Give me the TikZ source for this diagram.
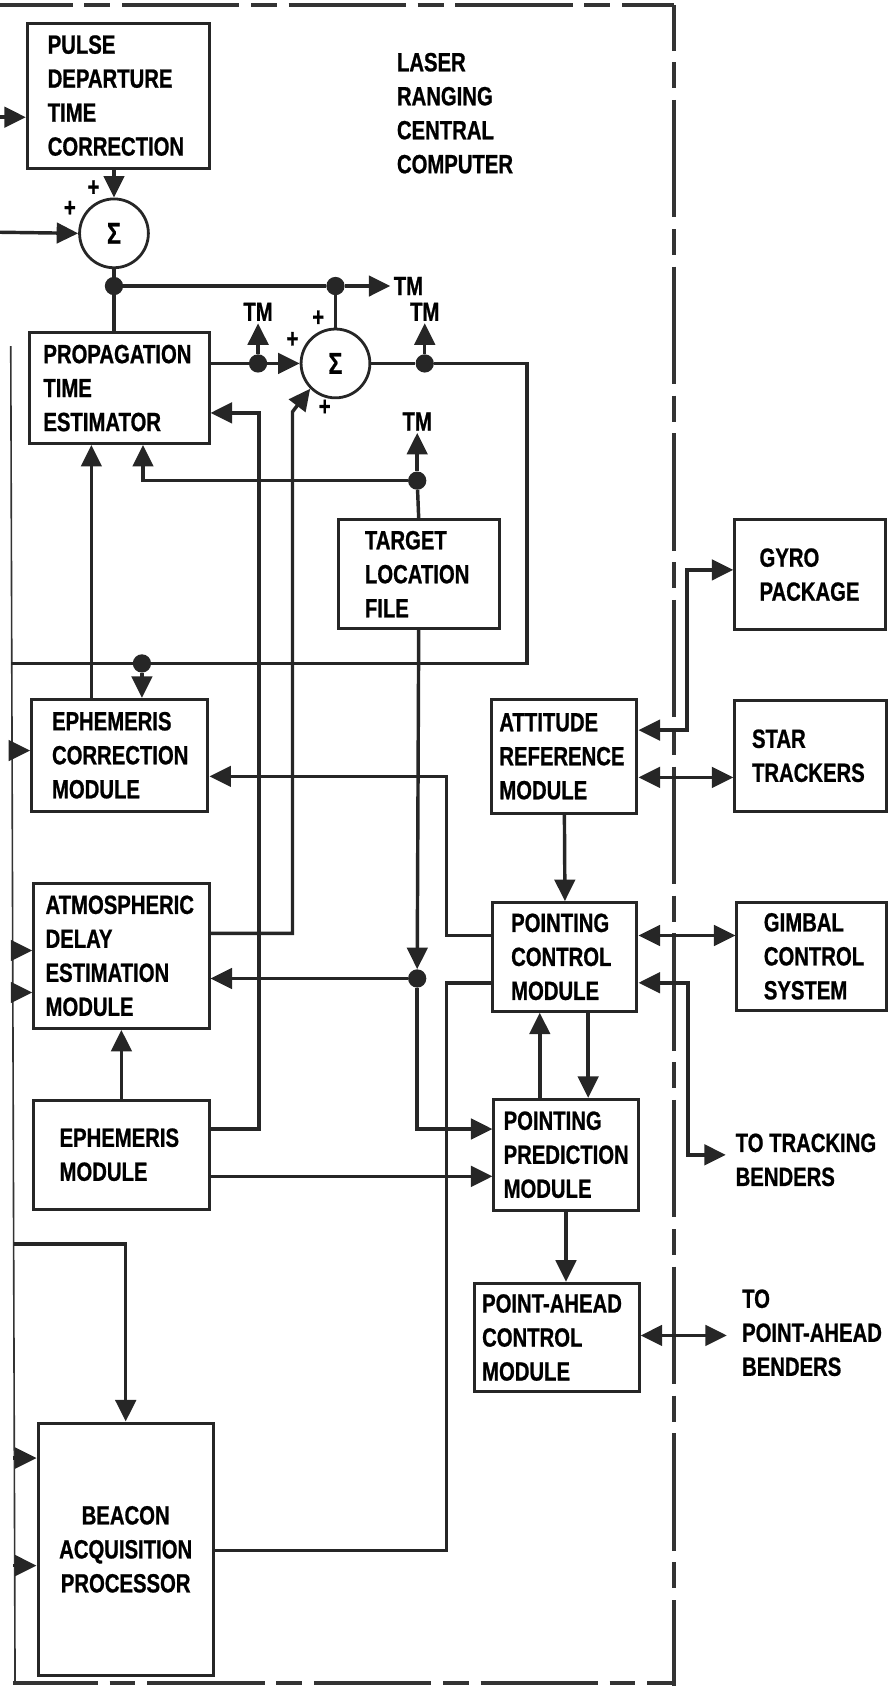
\documentclass[tikz,border=0pt]{standalone}
\usepackage{fontspec}
\setmainfont{Liberation Sans}[FakeStretch=0.77,FakeBold=0.8]
\usetikzlibrary{arrows.meta}
\tikzset{blk/.style={draw=black!85,line width=2.8pt,anchor=north west,align=left,inner ysep=0pt},
 sum/.style={draw=black!85,circle,line width=2.6pt,minimum size=64pt,inner sep=0pt,font=\bfseries\fontsize{28pt}{30pt}\selectfont},
 dot/.style={circle,fill=black!85,inner sep=0pt,minimum size=17pt},
 flow/.style={-{Triangle[length=20pt 0 0,width=19pt 0 0]},line width=3.2pt,draw=black!85},
 bi/.style={{Triangle[length=20pt 0 0,width=19pt 0 0]}-{Triangle[length=20pt 0 0,width=19pt 0 0]},line width=3.2pt,draw=black!85},
 wire/.style={line width=3.2pt,draw=black!85},
 txt/.style={align=left,inner sep=0pt,anchor=north west},
 frame/.style={line width=3.5pt,draw=black!80,dash pattern=on 109pt off 11pt on 24pt off 11pt}}
\begin{document}
\begin{tikzpicture}[x=1pt,y=-1pt,font=\bfseries\fontsize{24.5pt}{31.6pt}\selectfont]
\useasboundingbox (0,0) rectangle (829,1568);
% computer boundary
\draw[frame,dash phase=41.5pt] (0,5) -- (627,5);
\draw[frame,dash phase=67pt] (627,5) -- (627,1568);
\draw[frame,dash phase=30pt] (12,1565) -- (627,1565);
\draw[line width=1.5pt,black!80] (10,322) -- (14,1565);
\node[txt] (title) at (369,49) {LASER\\RANGING\\CENTRAL\\COMPUTER};

% left column
\node[blk,minimum width=169pt,minimum height=135pt,text width=131pt,inner xsep=19pt] (pdtc) at (24,20) {PULSE\\DEPARTURE\\TIME\\CORRECTION};
\node[blk,minimum width=167pt,minimum height=103pt,text width=141pt,inner xsep=13pt] (pte) at (26,308) {PROPAGATION\\TIME\\ESTIMATOR};
\node[blk,minimum width=164pt,minimum height=104pt,text width=126pt,inner xsep=19pt] (ecm) at (28,649) {EPHEMERIS\\CORRECTION\\MODULE};
\node[blk,minimum width=163pt,minimum height=135pt,text width=141pt,inner xsep=11pt] (adem) at (30,820) {ATMOSPHERIC\\DELAY\\ESTIMATION\\MODULE};
\node[blk,minimum width=163pt,minimum height=101pt,text width=115pt,inner xsep=24pt] (eph) at (30,1022) {EPHEMERIS\\MODULE};
\node[blk,align=center,minimum width=163pt,minimum height=235pt,text width=143pt,inner xsep=10pt] (bap) at (34,1322) {BEACON\\ACQUISITION\\PROCESSOR};
\node[blk,minimum width=150pt,minimum height=101pt,text width=100pt,inner xsep=25pt] (tlf) at (313,482) {TARGET\\LOCATION\\FILE};

% right column
\node[blk,minimum width=135pt,minimum height=106pt,text width=121pt,inner xsep=7pt] (arm) at (456,649) {ATTITUDE\\REFERENCE\\MODULE};
\node[blk,minimum width=134pt,minimum height=101pt,text width=100pt,inner xsep=17pt] (pcm) at (457,838) {POINTING\\CONTROL\\MODULE};
\node[blk,minimum width=134pt,minimum height=103pt,text width=116pt,inner xsep=9pt] (ppm) at (458,1021) {POINTING\\PREDICTION\\MODULE};
\node[blk,minimum width=153pt,minimum height=101pt,text width=139pt,inner xsep=7pt] (pacm) at (440,1192) {POINT-AHEAD\\CONTROL\\MODULE};
\node[blk,minimum width=140pt,minimum height=102pt,text width=94pt,inner xsep=23pt] (gyro) at (682,482) {GYRO\\PACKAGE};
\node[blk,minimum width=141pt,minimum height=103pt,text width=109pt,inner xsep=16pt] (star) at (682,650) {STAR\\TRACKERS};
\node[blk,minimum width=139pt,minimum height=100pt,text width=89pt,inner xsep=25pt] (gimbal) at (684,838) {GIMBAL\\CONTROL\\SYSTEM};
\node[txt] (lTrk) at (684,1054) {TO TRACKING\\BENDERS};
\node[txt] (lPA) at (690,1199) {TO\\POINT-AHEAD\\BENDERS};

% summing points and junctions
\node[sum] (s1) at (106,217) {Σ};
\node[sum] (s2) at (312,338) {Σ};
\node[dot] (d1) at (106,266) {};
\node[dot] (d2) at (312,266) {};
\node[dot] (d3) at (240,338) {};
\node[dot] (d4) at (395,338) {};
\node[dot] (d5) at (132,617) {};
\node[dot] (d6) at (388,447) {};
\node[dot] (d7) at (388,910) {};
\foreach \n/\x/\y in {p1/87/175,p2/65/194,p3/296/296,p4/272/316,p5/302/379}
 \node (\n) at (\x,\y) {+};
\node[anchor=west,inner sep=3pt] (tmA) at (363,266) {TM};
\node[inner sep=2pt] (tmB) at (240,290) {TM};
\node[inner sep=2pt] (tmC) at (395,290) {TM};
\node[inner sep=2pt] (tmD) at (388,392) {TM};

% inputs from the left
\coordinate (inP) at (0,109);
\coordinate (inS) at (0,216);
\coordinate (eL) at (10,617);
\coordinate (inB) at (13,1157);
\draw[flow] (inP) -- (inP -| pdtc.west);
\draw[flow] (inS) -- (s1.west);
\foreach \y/\b in {698/ecm,884/adem,923/adem,1356/bap,1456/bap}{
 \coordinate (in\y) at (12,\y);
 \draw[flow] (in\y) -- (in\y -| \b.west);}
\draw[flow] (inB) -| (bap.north);

% range loop
\draw[flow] (pdtc.south -| s1) -- (s1.north);
\draw[wire] (s1.south) -- (d1) -- (pte.north -| d1);
\draw[flow] (d1) -- (d2) -- (tmA.west);
\draw[wire] (d2) -- (s2.north);
\draw[flow] (pte.east |- s2) -- (s2.west);
\draw[flow] (d3) -- (tmB.south);
\draw[wire] (s2.east) -- (d4) -- (490,338) -- (490,617) -- (eL);
\draw[flow] (d4) -- (tmC.south);
\draw[flow] (d5) -- (d5 |- ecm.north);
\draw[flow] (ecm.north -| 85,0) -- (pte.south -| 85,0);
\draw[wire] (tlf.north) -- (d6);
\draw[flow] (d6) -- (tmD.south);
\draw[flow] (d6) -| (pte.south -| 133,0);
\draw[flow] (tlf.south) -- (d7.north);
\draw[flow] (d7) -- (d7 -| adem.east);
\draw[flow] (d7) |- (ppm.west |- 0,1050);
\draw[flow] (adem.east |- 0,868) -| (272,383) -- (s2.225);
\draw[flow] (eph.east |- 0,1050) -| (241,384) -- (pte.east |- 0,384);
\draw[flow] (eph.north) -- (adem.south);
\draw[flow] (eph.east |- 0,1094) -- (ppm.west |- 0,1094);

% pointing loop
\draw[flow] (pcm.west |- 0,870) -| (415,722) -- (ecm.east |- 0,722);
\draw[wire] (bap.east |- 0,1442) -| (415,914) -- (pcm.west |- 0,914);
\draw[flow] (arm.south) -- (pcm.north);
\draw[flow] (ppm.north -| 502,0) -- (pcm.south -| 502,0);
\draw[flow] (pcm.south -| 547,0) -- (ppm.north -| 547,0);
\draw[flow] (ppm.south) -- (ppm.south |- pacm.north);

% outside the computer
\coordinate (toTrk) at (675,1074);
\coordinate (toPA) at (676,1242);
\draw[bi] (arm.east |- 0,679) -| (639,530) -- (gyro.west |- 0,530);
\draw[bi] (arm.east |- 0,723) -- (star.west |- 0,723);
\draw[bi] (pcm.east |- 0,870) -- (gimbal.west |- 0,870);
\draw[bi] (pcm.east |- 0,914) -| (640,1074) -- (toTrk);
\draw[bi] (pacm.east |- 0,1242) -- (toPA);
\end{tikzpicture}
\end{document}
